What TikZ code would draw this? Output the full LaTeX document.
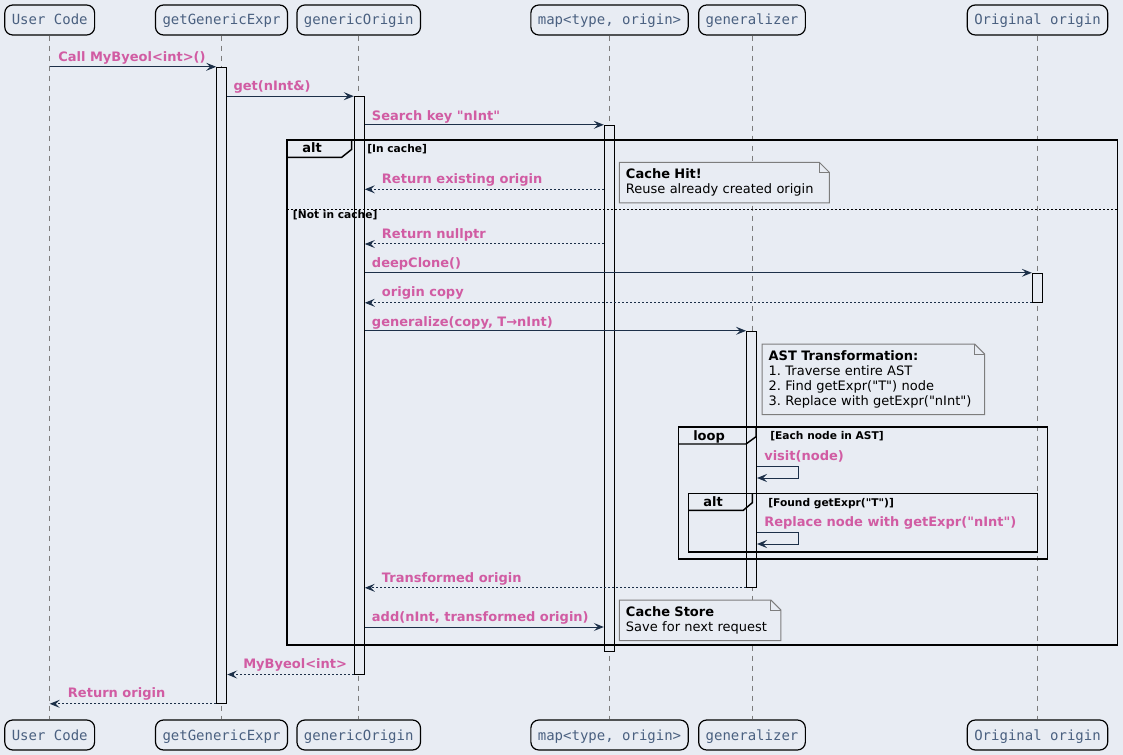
\documentclass[tikz,border=0pt]{standalone}
\usepackage{fontspec}
\setmainfont{DejaVu Sans}
\setmonofont{DejaVu Sans Mono}
\usetikzlibrary{arrows.meta,positioning}
\frenchspacing

\definecolor{bgcol}{RGB}{232,236,243}
\definecolor{msgcol}{RGB}{209,92,163}
\definecolor{arrcol}{RGB}{28,47,72}
\definecolor{partcol}{RGB}{74,96,128}
\definecolor{linecol}{RGB}{125,125,125}

\newcommand{\qt}[1]{\textquotedbl#1\textquotedbl}

\tikzset{
  part/.style={draw=black, line width=0.9pt, rounded corners=6pt, fill=bgcol,
    minimum height=22.5pt, inner xsep=5.25pt, inner ysep=0pt, text height=9pt, text depth=1.5pt,
    font=\ttfamily\fontsize{10.5}{12}\selectfont, text=partcol},
  lifeline/.style={draw=linecol, line width=0.6pt, dash pattern=on 3.75pt off 3.75pt},
  actbar/.style={draw=black, line width=0.75pt, fill=bgcol, minimum width=7.5pt, inner sep=0pt},
  msg/.style={draw=arrcol, line width=0.75pt, -{Stealth[length=7.5pt,width=6pt,inset=3pt]}},
  ret/.style={msg, dash pattern=on 1.5pt off 1.5pt},
  msglbl/.style={anchor=base west, inner sep=0pt, text=msgcol, font=\bfseries\fontsize{9.75}{11}\selectfont},
  framebox/.style={draw=black, line width=1.1pt},
  framelbl/.style={anchor=base west, inner sep=0pt, font=\bfseries\fontsize{9.75}{11}\selectfont},
  guard/.style={anchor=base west, inner sep=0pt, font=\bfseries\fontsize{8}{9}\selectfont},
  divider/.style={draw=black, line width=0.6pt, dash pattern=on 1.5pt off 1.5pt},
  note/.style={anchor=north west, fill=bgcol, inner xsep=4.8pt, inner ysep=0pt, align=left,
    font=\fontsize{9.75}{11.4}\selectfont},
  notebox/.style={draw=linecol, line width=0.75pt},
}

\begin{document}
\begin{tikzpicture}[x=0.75pt, y=-0.75pt]

\fill[bgcol] (0,0) rectangle (1123,755);
\useasboundingbox (0,0) rectangle (1123,755);

% Participants, top and bottom
\node[part] (uc)    at (49.7,20)   {User Code};
\node[part] (gge)   at (221.5,20)  {getGenericExpr};
\node[part] (go)    at (358.7,20)  {genericOrigin};
\node[part] (mp)    at (609.5,20)  {map<type, origin>};
\node[part] (gen)   at (752,20)    {generalizer};
\node[part] (oo)    at (1037.5,20) {Original origin};

\node[part] (uc-b)  at (49.7,735)   {User Code};
\node[part] (gge-b) at (221.5,735)  {getGenericExpr};
\node[part] (go-b)  at (358.7,735)  {genericOrigin};
\node[part] (mp-b)  at (609.5,735)  {map<type, origin>};
\node[part] (gen-b) at (752,735)    {generalizer};
\node[part] (oo-b)  at (1037.5,735) {Original origin};

% Lifelines
\foreach \p in {uc,gge,go,mp,gen,oo}
  \draw[lifeline] (\p) -- (\p-b);

% Activation bars
\node[actbar, minimum height=477pt]   (gge-act) at (221.7,385.3)  {};
\node[actbar, minimum height=433pt]   (go-act)  at (359.3,385.35) {};
\node[actbar, minimum height=395pt]   (mp-act)  at (609.3,388.65) {};
\node[actbar, minimum height=21.75pt] (oo-act)  at (1037.3,287.8) {};
\node[actbar, minimum height=192pt]   (gen-act) at (751.5,459.3)  {};

% Frames: alt (cache), loop, inner alt
\draw[framebox] (287,140) rectangle (1117.3,645);
\draw[framebox] (287,157.3) -- (341.7,157.3) -- (351.7,149.3) -- (351.7,140);
\node[framelbl] (f-alt) at (302,153) {alt};
\node[guard] (g-hit) at (367,152.7) {[In cache]};
\draw[divider] (287,209.3) -- (1117.3,209.3);
\node[guard] (g-miss) at (292.7,218.3) {[Not in cache]};

\draw[framebox] (678.3,427) rectangle (1047.7,559);
\draw[framebox] (678.3,444) -- (746,444) -- (756,436.7) -- (756,427);
\node[framelbl] (f-loop) at (693,440) {loop};
\node[guard] (g-loop) at (770,439) {[Each node in AST]};

\draw[framebox] (688.3,493.3) rectangle (1037.7,552);
\draw[framebox] (688.3,510.3) -- (743.3,510.3) -- (752.3,502.7) -- (752.3,493.3);
\node[framelbl] (f-alt2) at (703,506) {alt};
\node[guard] (g-found) at (768,506) {[Found getExpr(\qt{T})]};

% Notes
\node[note, text width=147.5pt, minimum height=30pt] (n-hit) at (619.3,162.3)
  {\textbf{Cache Hit!}\\Reuse already created origin};
\draw[notebox] (n-hit.south west) -- (n-hit.north west) -- ([xshift=-7.5pt]n-hit.north east)
  -- ([yshift=-7.5pt]n-hit.north east) -- (n-hit.south east) -- cycle;
\draw[notebox] ([xshift=-7.5pt]n-hit.north east) |- ([yshift=-7.5pt]n-hit.north east);

\node[note, text width=156.9pt, minimum height=52.5pt] (n-ast) at (762,344)
  {\textbf{AST Transformation:}\\1. Traverse entire AST\\2. Find getExpr(\qt{T}) node\\3. Replace with getExpr(\qt{nInt})};
\draw[notebox] (n-ast.south west) -- (n-ast.north west) -- ([xshift=-7.5pt]n-ast.north east)
  -- ([yshift=-7.5pt]n-ast.north east) -- (n-ast.south east) -- cycle;
\draw[notebox] ([xshift=-7.5pt]n-ast.north east) |- ([yshift=-7.5pt]n-ast.north east);

\node[note, text width=111.2pt, minimum height=30pt] (n-store) at (619.3,600)
  {\textbf{Cache Store}\\Save for next request};
\draw[notebox] (n-store.south west) -- (n-store.north west) -- ([xshift=-7.5pt]n-store.north east)
  -- ([yshift=-7.5pt]n-store.north east) -- (n-store.south east) -- cycle;
\draw[notebox] ([xshift=-7.5pt]n-store.north east) |- ([yshift=-7.5pt]n-store.north east);

% Messages
\draw[msg] (uc.south |- gge-act.north) -- (gge-act.north west);
\node[msglbl] (l-call) at (58,62) {Call MyByeol<int>()};

\draw[msg] (gge-act.east |- go-act.north) -- (go-act.north west);
\node[msglbl] (l-get) at (233.3,90.7) {get(nInt\&)};

\draw[msg] (go-act.east |- mp-act.north) -- (mp-act.north west);
\node[msglbl] (l-search) at (371.7,121) {Search key \qt{nInt}};

\coordinate (y-hit) at (0,189.3);
\draw[ret] (mp-act.west |- y-hit) -- (go-act.east |- y-hit);
\node[msglbl] (l-hit) at (381.7,183.3) {Return existing origin};

\coordinate (y-null) at (0,244);
\draw[ret] (mp-act.west |- y-null) -- (go-act.east |- y-null);
\node[msglbl] (l-null) at (381.7,239) {Return nullptr};

\draw[msg] (go-act.east |- oo-act.north) -- (oo-act.north west);
\node[msglbl] (l-clone) at (371.7,267.7) {deepClone()};

\draw[ret] (oo-act.south west) -- (go-act.east |- oo-act.south);
\node[msglbl] (l-copy) at (381.7,296.7) {origin copy};

\draw[msg] (go-act.east |- gen-act.north) -- (gen-act.north west);
\node[msglbl] (l-gen) at (371.7,326) {generalize(copy, T→nInt)};

% Self calls on generalizer
\coordinate (v-out) at (798,466);
\coordinate (v-in) at (798,478);
\draw[msg] (gen-act.east |- v-out) -- (v-out) -- (v-in) -- (gen-act.east |- v-in);
\node[msglbl] (l-visit) at (764,460) {visit(node)};

\coordinate (r-out) at (798,532);
\coordinate (r-in) at (798,544);
\draw[msg] (gen-act.east |- r-out) -- (r-out) -- (r-in) -- (gen-act.east |- r-in);
\node[msglbl] (l-repl) at (764,526) {Replace node with getExpr(\qt{nInt})};

\draw[ret] (gen-act.south west) -- (go-act.east |- gen-act.south);
\node[msglbl] (l-trans) at (381.7,582.7) {Transformed origin};

\coordinate (y-add) at (0,627);
\draw[msg] (go-act.east |- y-add) -- (mp-act.west |- y-add);
\node[msglbl] (l-add) at (371.7,621.7) {add(nInt, transformed origin)};

% Returns to the caller
\draw[ret] (go-act.south west) -- (gge-act.east |- go-act.south);
\node[msglbl] (l-ret1) at (243,668) {MyByeol<int>};

\draw[ret] (gge-act.south west) -- (uc.south |- gge-act.south);
\node[msglbl] (l-ret2) at (67.7,697.3) {Return origin};

\end{tikzpicture}
\end{document}
